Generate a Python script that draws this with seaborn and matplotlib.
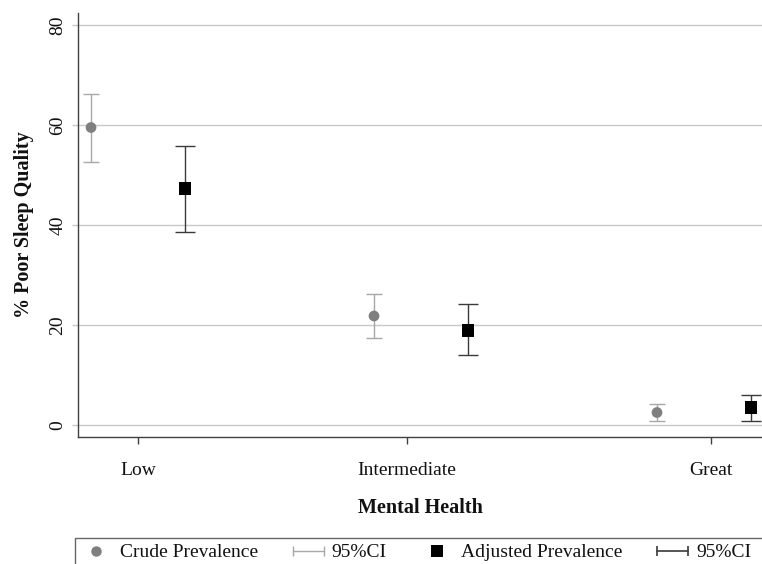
import matplotlib
matplotlib.use("Agg")
import matplotlib.pyplot as plt
import seaborn as sns
import pandas as pd
import numpy as np
from matplotlib.lines import Line2D
from matplotlib.legend_handler import HandlerLine2D

# ---- data ----
categories = ["Low", "Intermediate", "Great"]
crude = [59.5, 21.8, 2.5]
crude_lo = [52.7, 17.4, 0.8]
crude_hi = [66.3, 26.2, 4.2]
adjusted = [47.3, 18.9, 3.5]
adj_lo = [38.7, 14.0, 0.8]
adj_hi = [55.8, 24.2, 6.0]
tick_pos = [0.0, 0.95, 2.025]
yticks = [0, 20, 40, 60, 80]
legend_labels = ["Crude Prevalence", "95%CI", "Adjusted Prevalence", "95%CI"]

dodge = 0.166

sns.set_theme(style="white")
plt.rcParams['font.family'] = ['Liberation Serif', 'DejaVu Serif']

fig = plt.figure(figsize=(7.62, 5.64), dpi=100)
ax = fig.add_axes([78/762, 1-437/564, 1-78/762, (437-13)/564])

idx = np.arange(len(categories))
df_c = pd.DataFrame({"x": idx - dodge, "y": crude, "lo": crude_lo, "hi": crude_hi})
df_a = pd.DataFrame({"x": idx + dodge, "y": adjusted, "lo": adj_lo, "hi": adj_hi})

crude_col = "#7f7f7f"
crude_ci = "#a8a8a8"
adj_col = "#000000"
adj_ci = "#3a3a3a"

ax.errorbar(df_c["x"], df_c["y"], yerr=[df_c["y"]-df_c["lo"], df_c["hi"]-df_c["y"]],
            fmt="none", ecolor=crude_ci, elinewidth=1.0, capsize=5.5, capthick=1.0, zorder=2)
ax.errorbar(df_a["x"], df_a["y"], yerr=[df_a["y"]-df_a["lo"], df_a["hi"]-df_a["y"]],
            fmt="none", ecolor=adj_ci, elinewidth=1.0, capsize=7, capthick=1.0, zorder=2)
sns.scatterplot(data=df_c, x="x", y="y", color=crude_col, marker="o", s=60,
                edgecolor="none", ax=ax, zorder=3, legend=False)
sns.scatterplot(data=df_a, x="x", y="y", color=adj_col, marker="s", s=85,
                edgecolor="none", ax=ax, zorder=3, legend=False)

ax.set_xlim(-0.212, 2.205)
ax.set_ylim(-2.4, 82.4)
ax.set_yticks(yticks)
ax.set_yticklabels([str(v) for v in yticks], rotation=90, va="center", fontsize=14)
ax.set_xticks(tick_pos)
ax.set_xticklabels(categories, fontsize=14)
ax.grid(axis="y", color="#c8c8c8", linewidth=1.0)
ax.grid(axis="x", visible=False)
ax.set_axisbelow(True)
ax.tick_params(axis="y", left=True, length=4, width=1, color="#c8c8c8", pad=4.5, labelcolor="#111111")
ax.tick_params(axis="x", bottom=True, length=5, width=1, color="#404040", pad=13, labelcolor="#111111")
for s in ["top", "right"]:
    ax.spines[s].set_visible(False)
for s in ["left", "bottom"]:
    ax.spines[s].set_color("#404040")
    ax.spines[s].set_linewidth(1.0)
ax.set_xlabel("Mental Health", fontsize=14.5, fontweight="bold", labelpad=14, color="#111111")
ax.set_ylabel("% Poor Sleep Quality", fontsize=14.5, fontweight="bold", labelpad=11, color="#111111")

h1 = Line2D([], [], marker="o", color=crude_col, linestyle="none", markersize=7.5, markeredgewidth=0)
h2 = Line2D([], [], marker="|", color=crude_ci, linewidth=1.0, markersize=7, markeredgewidth=1.0)
h3 = Line2D([], [], marker="s", color=adj_col, linestyle="none", markersize=8.5, markeredgewidth=0)
h4 = Line2D([], [], marker="|", color=adj_ci, linewidth=1.2, markersize=7, markeredgewidth=1.2)
h5 = Line2D([], [], linestyle="none")
leg = fig.legend([h1, h2, h3, h4, h5], legend_labels + [""], loc="upper left",
                 bbox_to_anchor=(75/762, 1-538/564), ncol=5, frameon=True, fontsize=14,
                 borderpad=0.3, handlelength=1.6, handletextpad=0.4, columnspacing=1.8,
                 borderaxespad=0, fancybox=False, edgecolor="#404040",
                 handler_map={h2: HandlerLine2D(numpoints=2, marker_pad=0),
                              h4: HandlerLine2D(numpoints=2, marker_pad=0)})
leg.get_frame().set_linewidth(1.0)
for t in leg.get_texts():
    t.set_color("#111111")

fig.savefig("out.png", dpi=100)
